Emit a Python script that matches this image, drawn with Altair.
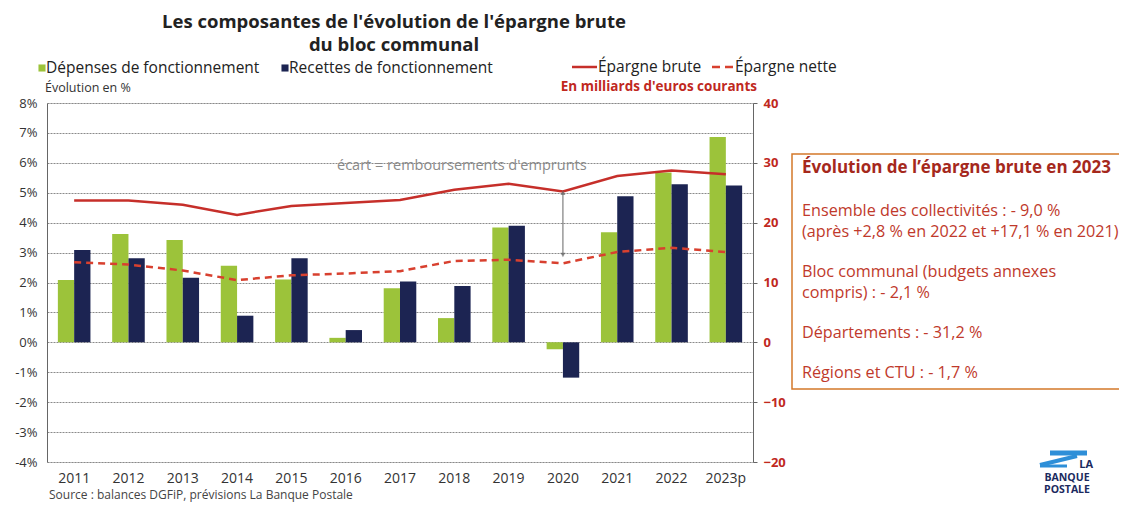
import altair as alt
import pandas as pd

FONT = "Open Sans"

years = ["2011", "2012", "2013", "2014", "2015", "2016", "2017",
         "2018", "2019", "2020", "2021", "2022", "2023p"]
depenses = [2.08, 3.62, 3.42, 2.56, 2.1, 0.15, 1.81, 0.81, 3.84, -0.23, 3.68, 5.68, 6.86]
recettes = [3.09, 2.81, 2.16, 0.89, 2.81, 0.41, 2.03, 1.88, 3.9, -1.18, 4.88, 5.28, 5.24]
epargne_brute = [23.7, 23.7, 23.0, 21.3, 22.8, 23.3, 23.8, 25.5, 26.5, 25.2, 27.8, 28.7, 28.1]
epargne_nette = [13.4, 13.0, 12.0, 10.4, 11.2, 11.5, 11.9, 13.6, 13.8, 13.2, 15.1, 15.8, 15.1]

series_names = ["Dépenses de fonctionnement", "Recettes de fonctionnement"]
series_colors = ["#9cc33a", "#1c2452"]
RED = "#c62f2a"
RED2 = "#d8402f"

bars_df = pd.DataFrame({
    "year": years * 2,
    "serie": [series_names[0]] * len(years) + [series_names[1]] * len(years),
    "value": depenses + recettes,
})
lines_df = pd.DataFrame({"year": years, "brute": epargne_brute, "nette": epargne_nette})
arrow_df = pd.DataFrame({"year": ["2020"], "top": [25.0], "bottom": [14.6]})

xscale = alt.Scale(domain=years, paddingInner=0.4, paddingOuter=0.2)
xaxis = alt.Axis(title=None, labelFontSize=14, labelColor="#333", labelFont=FONT,
                 labelAngle=0, domain=False, ticks=False, labelPadding=9)

bars = alt.Chart(bars_df).mark_bar().encode(
    x=alt.X("year:N", scale=xscale, axis=xaxis, sort=years),
    xOffset=alt.XOffset("serie:N", sort=series_names, scale=alt.Scale(paddingInner=0)),
    y=alt.Y("value:Q", scale=alt.Scale(domain=[-4, 8], nice=False),
            axis=alt.Axis(title=None, values=list(range(-4, 9)), labelExpr="datum.value + '%'",
                          labelFontSize=13, labelColor="#333", labelFont=FONT,
                          grid=True, gridColor="#8a8a8a", gridDash=[2, 1],
                          domainColor="#666", ticks=False, labelPadding=10)),
    color=alt.Color("serie:N", scale=alt.Scale(domain=series_names, range=series_colors), legend=None),
)

right_scale = alt.Scale(domain=[-20, 40], nice=False)
right_axis = alt.Axis(title=None, orient="right", values=[-20, -10, 0, 10, 20, 30, 40],
                      labelFontSize=13, labelColor="#c0281e", labelFontWeight="bold",
                      labelFont=FONT, grid=False, domainColor="#666", tickColor="#666",
                      tickSize=4, labelPadding=6)

line_brute = alt.Chart(lines_df).mark_line(color=RED, strokeWidth=2.5).encode(
    x=alt.X("year:N", sort=years, scale=xscale, axis=xaxis),
    y=alt.Y("brute:Q", scale=right_scale, axis=right_axis),
)
line_nette = alt.Chart(lines_df).mark_line(color=RED2, strokeWidth=2.5, strokeDash=[7, 5]).encode(
    x=alt.X("year:N", sort=years),
    y=alt.Y("nette:Q"),
)
arrow_line = alt.Chart(arrow_df).mark_rule(color="#666", strokeWidth=1).encode(
    x=alt.X("year:N", sort=years), y=alt.Y("top:Q"), y2="bottom:Q")
arrow_top = alt.Chart(arrow_df).mark_point(shape="triangle-up", filled=True, color="#666", size=25).encode(
    x=alt.X("year:N", sort=years), y=alt.Y("top:Q"))
arrow_bot = alt.Chart(arrow_df).mark_point(shape="triangle-down", filled=True, color="#666", size=25).encode(
    x=alt.X("year:N", sort=years), y=alt.Y("bottom:Q"))

right_layer = alt.layer(line_brute, line_nette, arrow_line, arrow_top, arrow_bot)

one = pd.DataFrame({"t": [""]})


def txt(text, x, y, size, color, weight="normal", align="left", font=FONT):
    return alt.Chart(pd.DataFrame({"t": [text]})).mark_text(
        align=align, baseline="middle", fontSize=size, color=color,
        fontWeight=weight, font=font).encode(
        x=alt.value(x), y=alt.value(y), text="t:N")


def sq(x, y, color):
    return alt.Chart(one).mark_square(size=50, color=color, opacity=1).encode(
        x=alt.value(x), y=alt.value(y))


def seg(x1, x2, y1, y2, color, width, dash=None):
    kw = {"color": color, "strokeWidth": width}
    if dash:
        kw["strokeDash"] = dash
    return alt.Chart(one).mark_rule(**kw).encode(
        x=alt.value(x1), x2=alt.value(x2), y=alt.value(y1), y2=alt.value(y2))


box = alt.Chart(one).mark_rect(fill="white", stroke="#d4782a", strokeWidth=1.5).encode(
    x=alt.value(745), x2=alt.value(1130), y=alt.value(51), y2=alt.value(286))

BOXRED = "#c0392b"
deco = [
    txt("Les composantes de l'évolution de l'épargne brute", 347, -81, 18.5, "#222", "bold", "center"),
    txt("du bloc communal", 347, -58, 18.5, "#222", "bold", "center"),
    sq(-5, -35, series_colors[0]),
    txt(series_names[0], -1, -35, 15.5, "#222"),
    sq(238, -35, series_colors[1]),
    txt(series_names[1], 242, -35, 15.5, "#222"),
    seg(525, 550, -36, -36, RED, 2.5),
    txt("Épargne brute", 551, -36, 15.5, "#222"),
    seg(665, 687, -36, -36, RED2, 2.5, [8, 5]),
    txt("Épargne nette", 688, -36, 15.5, "#222"),
    txt("Évolution en %", -2, -15, 12.5, "#333"),
    txt("En milliards d'euros courants", 710, -16, 13.5, "#c0281e", "bold", "right"),
    txt("écart = remboursements d'emprunts", 290, 63, 14.5, "#8a8a8a"),
    txt("Source : balances DGFiP, prévisions La Banque Postale", 2, 392, 12, "#444"),
    box,
    txt("Évolution de l\u2019épargne brute en 2023", 755, 65, 17, "#a5281c", "bold"),
    txt("Ensemble des collectivités : - 9,0 %", 755, 108, 16.2, BOXRED),
    txt("(après +2,8 % en 2022 et +17,1 % en 2021)", 755, 129, 16.2, BOXRED),
    txt("Bloc communal (budgets annexes", 755, 169, 16.2, BOXRED),
    txt("compris) : - 2,1 %", 755, 190, 16.2, BOXRED),
    txt("Départements : - 31,2 %", 755, 230, 16.2, BOXRED),
    txt("Régions et CTU : - 1,7 %", 755, 270, 16.2, BOXRED),
    seg(1003, 1040, 350, 350, "#2e8fd8", 5),
    seg(1030, 993, 353, 362, "#2e8fd8", 4),
    seg(993, 1020, 363, 363, "#2e8fd8", 3),
    txt("LA", 1046, 362, 11, "#1b2a5e", "bold", "right"),
    txt("BANQUE", 1020, 375, 10.5, "#1b2a5e", "bold", "center"),
    txt("POSTALE", 1020, 387, 10.5, "#1b2a5e", "bold", "center"),
]

chart = alt.layer(bars, right_layer, *deco).resolve_scale(y="independent").properties(
    width=706, height=359,
    autosize=alt.AutoSizeParams(type="none"),
    padding={"left": 39, "top": 95, "right": 366, "bottom": 40},
).configure_view(strokeWidth=0).configure(background="white")

chart.save("out.html", embed_options={"renderer": "svg", "actions": False})
